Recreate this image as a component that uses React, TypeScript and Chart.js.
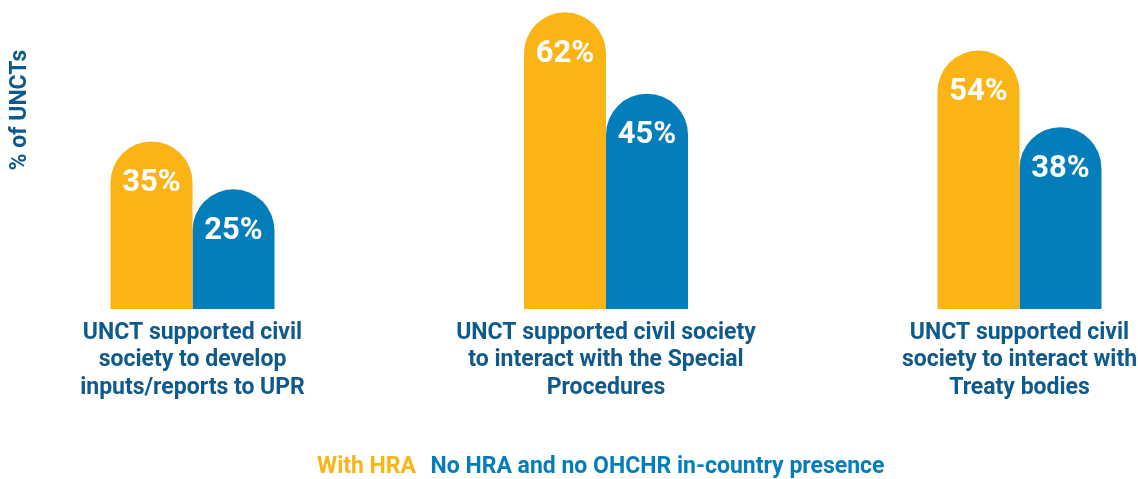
import React, { useEffect, useRef } from "react";
import { Chart, registerables } from "chart.js";

Chart.register(...registerables);

const categories: string[][] = [
  ["UNCT supported civil", "society to develop", "inputs/reports to UPR"],
  ["UNCT supported civil society", "to interact with the Special", "Procedures"],
  ["UNCT supported civil", "society to interact with", "Treaty bodies"],
];
const seriesNames = ["With HRA", "No HRA and no OHCHR in-country presence"];
const withHRA = [35, 62, 54];
const noHRA = [25, 45, 38];
const yAxisTitle = "% of UNCTs";

const YELLOW = "#FBB416";
const BLUE = "#047DBB";
const DARK_BLUE = "#0F5A8C";
const FONT = "Roboto, 'Noto Sans', sans-serif";

export default function App() {
  const ref = useRef<HTMLCanvasElement | null>(null);

  useEffect(() => {
    if (!ref.current) return;

    const valueLabels = {
      id: "valueLabels",
      afterDatasetsDraw(chart: any) {
        const ctx = chart.ctx;
        ctx.save();
        ctx.fillStyle = "#ffffff";
        ctx.font = `bold 31px ${FONT}`;
        ctx.textAlign = "center";
        ctx.textBaseline = "middle";
        chart.data.datasets.forEach((ds: any, di: number) => {
          const meta = chart.getDatasetMeta(di);
          meta.data.forEach((el: any, i: number) => {
            ctx.fillText(`${ds.data[i]}%`, el.x, el.y + 42);
          });
        });
        ctx.restore();
      },
    };

    const yTitle = {
      id: "yTitle",
      afterDraw(chart: any) {
        const ctx = chart.ctx;
        ctx.save();
        ctx.translate(20, 110);
        ctx.rotate(-Math.PI / 2);
        ctx.fillStyle = DARK_BLUE;
        ctx.font = `bold 23px ${FONT}`;
        ctx.textAlign = "center";
        ctx.textBaseline = "middle";
        ctx.fillText(yAxisTitle, 0, 0);
        ctx.restore();
      },
    };

    const legendShift = {
      id: "legendShift",
      afterLayout(chart: any) {
        if (chart.legend) {
          chart.legend.left -= 11;
          chart.legend.right -= 11;
        }
      },
    };

    const chart = new Chart(ref.current, {
      type: "bar",
      data: {
        labels: categories,
        datasets: [
          {
            label: seriesNames[0],
            data: withHRA,
            backgroundColor: YELLOW,
            borderWidth: 0,
            borderRadius: { topLeft: 100, topRight: 100, bottomLeft: 0, bottomRight: 0 },
            borderSkipped: "start",
            clip: false as any,
          },
          {
            label: seriesNames[1],
            data: noHRA,
            backgroundColor: BLUE,
            borderWidth: 0,
            borderRadius: { topLeft: 100, topRight: 100, bottomLeft: 0, bottomRight: 0 },
            borderSkipped: "start",
            clip: false as any,
          },
        ],
      },
      options: {
        responsive: false,
        animation: false,
        events: [],
        categoryPercentage: 0.3966,
        barPercentage: 1,
        layout: { padding: { left: 192.5, right: 118.5, top: 7.5, bottom: -10 } },
        scales: {
          x: {
            type: "category",
            offset: false,
            grid: { display: false, drawTicks: false },
            border: { display: false },
            ticks: {
              autoSkip: false,
              maxRotation: 0,
              minRotation: 0,
              padding: 11,
              color: DARK_BLUE,
              font: { family: FONT, size: 23, weight: "bold", lineHeight: 1.18 },
            },
            afterFit(scale: any) {
              scale.height = 144;
              scale.paddingLeft = 0;
              scale.paddingRight = 0;
            },
          },
          y: {
            display: false,
            min: 0,
            max: 63,
          },
        },
        plugins: {
          tooltip: { enabled: false },
          legend: {
            position: "bottom",
            fullSize: false,
            labels: {
              boxWidth: 0,
              boxHeight: 0,
              padding: 3,
              font: { family: FONT, size: 23, weight: "bold" },
              generateLabels(ch: any) {
                return ch.data.datasets.map((ds: any, i: number) => ({
                  text: ds.label,
                  fillStyle: "rgba(0,0,0,0)",
                  strokeStyle: "rgba(0,0,0,0)",
                  lineWidth: 0,
                  fontColor: ds.backgroundColor,
                  hidden: false,
                  datasetIndex: i,
                }));
              },
            },
          },
        },
      },
      plugins: [valueLabels, yTitle, legendShift],
    });

    return () => chart.destroy();
  }, []);

  return (
    <div style={{ position: "fixed", left: 0, top: 0, width: 1138, height: 479, background: "#fff" }}>
      <canvas ref={ref} width={1138} height={479} style={{ width: 1138, height: 479, display: "block" }} />
    </div>
  );
}
